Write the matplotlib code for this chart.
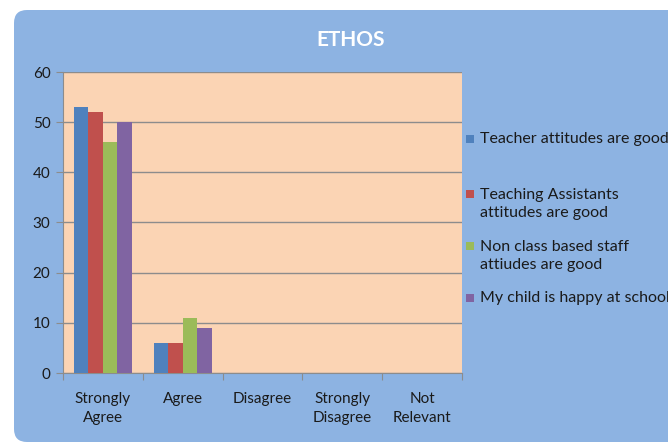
import numpy as np
import matplotlib.pyplot as plt
from matplotlib.patches import FancyBboxPatch, Rectangle

categories = ['Strongly\nAgree', 'Agree', 'Disagree', 'Strongly\nDisagree', 'Not\nRelevant']
series_names = ['Teacher attitudes are good',
                'Teaching Assistants\nattitudes are good',
                'Non class based staff\nattiudes are good',
                'My child is happy at school']
teacher = [53, 6, 0, 0, 0]
assistants = [52, 6, 0, 0, 0]
non_class = [46, 11, 0, 0, 0]
happy = [50, 9, 0, 0, 0]
values = [teacher, assistants, non_class, happy]
colors = ['#4F81BD', '#C0504D', '#9BBB59', '#8064A2']

plt.rcParams['font.family'] = ['Lato', 'DejaVu Sans']

W, H = 668, 444
fig = plt.figure(figsize=(W/100, H/100), dpi=100)
fig.patch.set_facecolor('white')

# rounded blue chart area (pixel coords)
bg = FancyBboxPatch((14/100, 2/100), 7.0, 4.32,
                    boxstyle='round,pad=0,rounding_size=0.13',
                    transform=fig.dpi_scale_trans,
                    facecolor='#8DB3E2', edgecolor='none', zorder=-5)
fig.patches.append(bg)

ax = fig.add_axes([63/W, (H-373)/H, (462-63)/W, (373-72)/H])
ax.set_zorder(2)
ax.set_facecolor('#FBD4B4')

x = np.arange(len(categories))
bw = 1/5.5
for i, (vals, c) in enumerate(zip(values, colors)):
    ax.bar(x + (i-1.5)*bw, vals, bw, color=c, zorder=3, linewidth=0)

ax.set_xlim(-0.5, len(categories)-0.5)
ax.set_ylim(0, 60)
ax.set_yticks(range(0, 61, 10))
ax.grid(axis='y', color='#8C8C8C', linewidth=1, zorder=1)
ax.set_xticks(np.arange(len(categories)+1)-0.5)
ax.set_xticklabels([])
ax.set_xticks(x, minor=True)
ax.set_xticklabels(categories, minor=True, fontsize=11, color='#1a1a1a',
                   linespacing=1.45)
ax.tick_params(axis='x', which='minor', length=0, pad=14)
ax.tick_params(axis='x', which='major', length=5, color='#8C8C8C')
ax.tick_params(axis='y', length=5, color='#8C8C8C', labelsize=11, labelcolor='#1a1a1a', pad=4)
for s in ['top', 'right']:
    ax.spines[s].set_visible(False)
for s in ['left', 'bottom']:
    ax.spines[s].set_color('#8C8C8C')

fig.text(351/W, 1-40/H, 'ETHOS', color='white', fontsize=15, fontweight='bold',
         ha='center', va='center')

# legend drawn manually to follow the uneven Excel spacing
leg_y = [139, 204, 256, 298]
for name, c, yc in zip(series_names, colors, leg_y):
    first_line_y = yc if '\n' not in name else yc - 10
    fig.patches.append(Rectangle((466/W, 1-(first_line_y+4)/H), 8/W, 8/H,
                                 transform=fig.transFigure, facecolor=c,
                                 edgecolor='none'))
    fig.text(480/W, 1-yc/H, name, fontsize=11.5, color='#1a1a1a',
             ha='left', va='center', linespacing=1.4)

fig.savefig('out.png', dpi=100)
